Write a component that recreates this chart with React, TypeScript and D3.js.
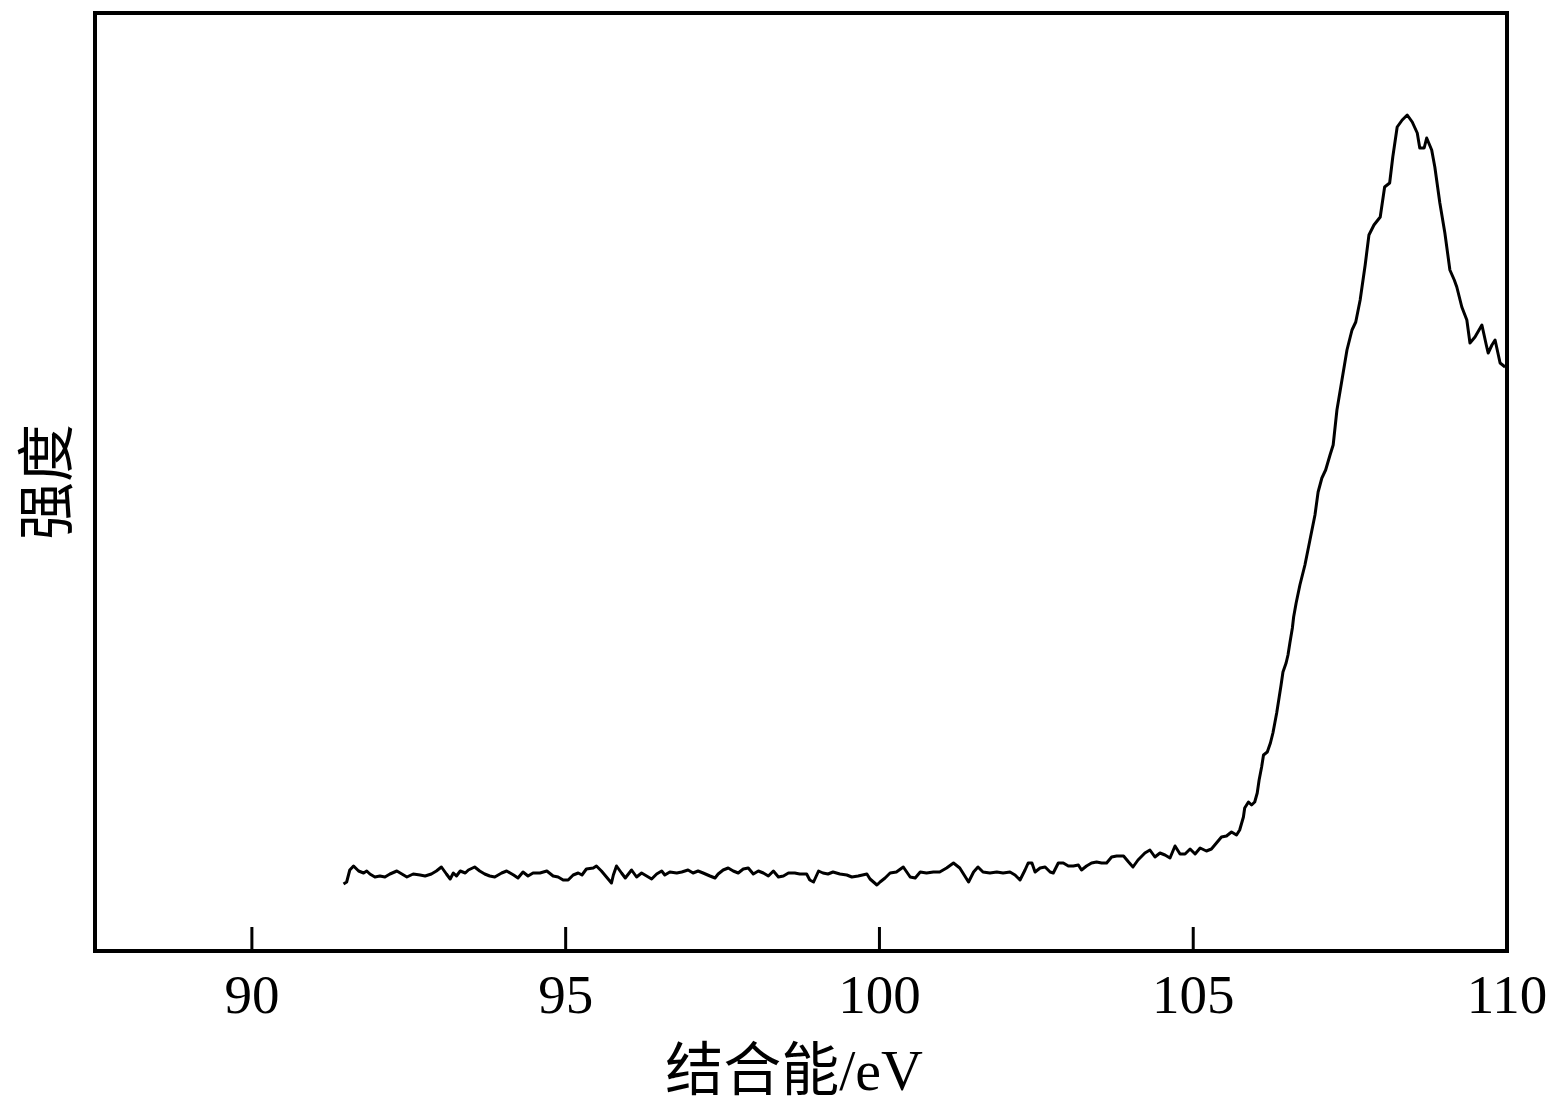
import React, { useEffect, useRef } from "react";
import * as d3 from "d3";

const energy: number[] = [
  91.46, 91.51, 91.56, 91.62, 91.70, 91.78, 91.83, 91.88, 91.96, 92.04, 92.12, 92.20, 92.31, 92.39, 92.47, 92.57,
  92.68, 92.76, 92.86, 92.94, 93.02, 93.10, 93.16, 93.21, 93.26, 93.32, 93.40, 93.45, 93.55, 93.63, 93.71, 93.79,
  93.87, 93.98, 94.06, 94.17, 94.24, 94.32, 94.40, 94.48, 94.59, 94.70, 94.80, 94.88, 94.96, 95.04, 95.12, 95.20,
  95.26, 95.33, 95.44, 95.49, 95.57, 95.65, 95.73, 95.76, 95.81, 95.89, 95.95, 96.00, 96.05, 96.13, 96.21, 96.29,
  96.37, 96.45, 96.53, 96.58, 96.66, 96.77, 96.85, 96.95, 97.03, 97.11, 97.19, 97.30, 97.38, 97.43, 97.51, 97.59,
  97.67, 97.75, 97.83, 97.91, 97.99, 98.07, 98.15, 98.23, 98.31, 98.39, 98.47, 98.55, 98.65, 98.73, 98.84, 98.89,
  98.95, 99.03, 99.10, 99.18, 99.26, 99.37, 99.48, 99.56, 99.66, 99.80, 99.85, 99.96, 100.01, 100.09, 100.17, 100.27,
  100.38, 100.49, 100.57, 100.65, 100.75, 100.86, 100.96, 101.07, 101.18, 101.28, 101.42, 101.50, 101.57, 101.65, 101.76, 101.87,
  101.97, 102.08, 102.16, 102.24, 102.32, 102.37, 102.43, 102.48, 102.56, 102.64, 102.72, 102.77, 102.85, 102.93, 103.01, 103.09,
  103.17, 103.22, 103.30, 103.38, 103.46, 103.54, 103.62, 103.70, 103.78, 103.89, 103.97, 104.04, 104.12, 104.23, 104.31, 104.39,
  104.47, 104.55, 104.63, 104.71, 104.79, 104.87, 104.95, 105.03, 105.11, 105.21, 105.29, 105.37, 105.45, 105.53, 105.61, 105.69,
  105.74, 105.80, 105.82, 105.88, 105.93, 105.98, 106.02, 106.05, 106.09, 106.12, 106.18, 106.23, 106.27, 106.30, 106.33, 106.37,
  106.40, 106.43, 106.48, 106.51, 106.54, 106.58, 106.60, 106.64, 106.70, 106.78, 106.86, 106.94, 106.99, 107.05, 107.11, 107.18,
  107.23, 107.29, 107.37, 107.45, 107.53, 107.59, 107.66, 107.74, 107.80, 107.88, 107.98, 108.05, 108.13, 108.18, 108.25, 108.33,
  108.41, 108.49, 108.57, 108.61, 108.68, 108.72, 108.80, 108.85, 108.93, 109.01, 109.09, 109.16, 109.20, 109.28, 109.36, 109.41,
  109.49, 109.60, 109.67, 109.70, 109.76, 109.81, 109.89, 109.97,
];

const intensity: number[] = [
  67, 69, 81, 85, 80, 78, 80, 77, 74, 75, 74, 77, 80, 77, 74, 77,
  76, 75, 77, 80, 84, 77, 72, 78, 75, 80, 78, 81, 84, 80, 77, 75,
  74, 78, 80, 76, 73, 79, 75, 78, 78, 80, 75, 74, 71, 71, 76, 78,
  76, 82, 83, 85, 80, 74, 68, 76, 85, 78, 73, 77, 81, 74, 78, 75,
  72, 77, 80, 76, 79, 78, 79, 81, 78, 80, 78, 75, 73, 77, 81, 83,
  80, 78, 82, 83, 77, 80, 78, 75, 80, 74, 75, 78, 78, 77, 77, 71,
  69, 80, 78, 77, 79, 77, 76, 74, 75, 77, 72, 66, 69, 73, 78, 79,
  84, 74, 73, 79, 78, 79, 79, 83, 88, 83, 69, 79, 84, 79, 78, 79,
  78, 79, 76, 71, 81, 88, 88, 79, 83, 84, 79, 78, 88, 88, 85, 85,
  86, 81, 85, 88, 89, 88, 88, 94, 95, 95, 89, 84, 91, 98, 101, 94,
  98, 96, 93, 105, 97, 97, 102, 97, 103, 100, 102, 108, 114, 115, 119, 116,
  121, 134, 143, 149, 146, 149, 158, 171, 184, 196, 199, 208, 218, 228, 238, 254,
  266, 279, 288, 296, 308, 323, 334, 348, 366, 386, 411, 436, 459, 473, 481, 496,
  506, 541, 571, 601, 621, 629, 651, 686, 716, 726, 734, 764, 768, 794, 824, 831,
  836, 829, 818, 803, 803, 813, 801, 784, 748, 718, 681, 671, 664, 644, 631, 608,
  614, 626, 606, 598, 606, 611, 588, 584,
];

const xTicks: number[] = [90, 95, 100, 105, 110];
const xDomain: [number, number] = [87.5, 110];
const yDomain: [number, number] = [0, 938];
const xTitle = "结合能/eV";
const yTitle = "强度";

const W = 1564;
const H = 1111;
const left = 95;
const right = 1507;
const top = 13;
const bottom = 951;

export default function App() {
  const ref = useRef<SVGSVGElement>(null);

  useEffect(() => {
    const svg = d3.select(ref.current);
    svg.selectAll("*").remove();

    const x = d3.scaleLinear().domain(xDomain).range([left, right]);
    const y = d3.scaleLinear().domain(yDomain).range([bottom, top]);

    const data = energy.map((e, i) => ({ e, v: intensity[i] }));

    const line = d3
      .line<{ e: number; v: number }>()
      .x((d) => x(d.e))
      .y((d) => y(d.v));

    svg
      .append("path")
      .datum(data)
      .attr("d", line)
      .attr("fill", "none")
      .attr("stroke", "#000")
      .attr("stroke-width", 3)
      .attr("stroke-linejoin", "round");

    const g = svg.append("g");
    xTicks.forEach((t) => {
      if (t > xDomain[0] && t < xDomain[1]) {
        g.append("line")
          .attr("x1", x(t))
          .attr("x2", x(t))
          .attr("y1", bottom)
          .attr("y2", bottom - 24)
          .attr("stroke", "#000")
          .attr("stroke-width", 3);
      }
      g.append("text")
        .attr("x", x(t))
        .attr("y", 1013)
        .attr("text-anchor", "middle")
        .attr("font-family", "'Liberation Serif', 'Times New Roman', serif")
        .attr("font-size", 55)
        .attr("fill", "#000")
        .text(String(t));
    });

    svg
      .append("rect")
      .attr("x", left)
      .attr("y", top)
      .attr("width", right - left)
      .attr("height", bottom - top)
      .attr("fill", "none")
      .attr("stroke", "#000")
      .attr("stroke-width", 4);

    svg
      .append("text")
      .attr("x", 794)
      .attr("y", 1090)
      .attr("text-anchor", "middle")
      .attr("font-family", "'Liberation Serif', 'Noto Sans CJK SC', serif")
      .attr("font-size", 58)
      .attr("fill", "#000")
      .text(xTitle);

    svg
      .append("text")
      .attr("transform", `translate(42, ${(top + bottom) / 2}) rotate(-90)`)
      .attr("text-anchor", "middle")
      .attr("dominant-baseline", "central")
      .attr("font-family", "'Noto Sans CJK SC', serif")
      .attr("font-size", 58)
      .attr("fill", "#000")
      .text(yTitle);
  }, []);

  return (
    <svg
      ref={ref}
      width={W}
      height={H}
      style={{ position: "absolute", left: 0, top: 0, background: "#fff" }}
    />
  );
}
